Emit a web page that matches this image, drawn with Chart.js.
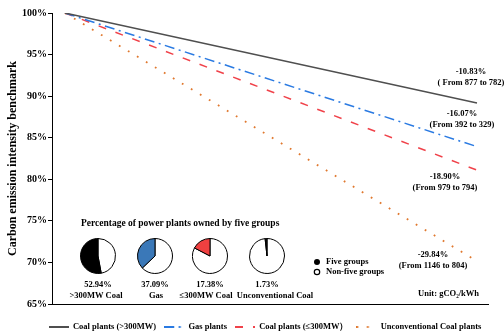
<!DOCTYPE html>
<html>
<head>
<meta charset="utf-8">
<script src="https://cdn.jsdelivr.net/npm/chart.js@4.4.1/dist/chart.umd.min.js"></script>
<style>
  html, body { margin: 0; padding: 0; background: #fff; }
  #wrap { position: relative; width: 504px; height: 333px; overflow: hidden; }
  #main { position: absolute; left: 0; top: 0; }
  .pie { position: absolute; }
</style>
</head>
<body>
<div id="wrap"><canvas id="main" width="504" height="333"></canvas></div>
<script>
// ---- data ----
const years = [2020, 2024];
const seriesNames = ['Coal plants (>300MW)', 'Gas plants', 'Coal plants (\u2264300MW\uFF09', 'Unconventional Coal plants'];
const intensityStart = [877, 392, 979, 1146];   // gCO2/kWh in 2020
const intensityEnd = [782, 329, 794, 804];      // gCO2/kWh in 2024
const yTickValues = [65, 70, 75, 80, 85, 90, 95, 100];

const pieNames = ['>300MW Coal', 'Gas', '\u2264300MW Coal', 'Unconventional Coal'];
const fiveGroupShare = [52.94, 37.09, 17.38, 1.73];

// ---- styles ----
const serif = "'Liberation Serif', 'Times New Roman', serif";
const lineStyles = [
  { color: '#4f4f4f', dash: [] },
  { color: '#2a7ae2', dash: [10, 4.5, 2, 4.5] },
  { color: '#f0424a', dash: [8, 10] },
  { color: '#e0782e', dash: [1.8, 8.7] }
];
const pieColors = ['#000000', '#3a78b8', '#f04040', '#111111'];

// label placement relative to each line's 2024 end point
const endLabelOffsets = [
  { dx: -6, dy: -31 },
  { dx: -15, dy: -33 },
  { dx: -32, dy: 7 },
  { dx: -44, dy: -6 }
];
const inset = {
  titleX: 81, titleY: 224,
  pieX: [98, 155, 210, 267], pieY: 256, pieSize: 36,
  pctY: 285, nameY: 296, nameX: [96, 156, 206, 275],
  keyX: 317, keyY: [262, 272]
};

// benchmark (% of 2020 intensity)
const benchmark = intensityStart.map((s, i) => [100, intensityEnd[i] / s * 100]);

function legendSample(style) {
  const c = document.createElement('canvas');
  c.width = 20; c.height = 4;
  const g = c.getContext('2d');
  g.strokeStyle = style.color;
  g.lineWidth = 2;
  g.setLineDash(style.dash);
  g.beginPath(); g.moveTo(0, 2); g.lineTo(20, 2); g.stroke();
  return c;
}

const annotations = {
  id: 'annotations',
  afterLayout(chart) {
    // centre the legend row under the plot
    chart.legend.left += 21;
    chart.legend.right += 21;
  },
  afterDraw(chart) {
    const { ctx, scales: { x, y }, chartArea } = chart;
    ctx.save();
    ctx.fillStyle = '#000';
    ctx.textBaseline = 'middle';
    ctx.textAlign = 'center';
    ctx.font = `bold 8.5px ${serif}`;
    benchmark.forEach((vals, i) => {
      const px = x.getPixelForValue(years[1]) + endLabelOffsets[i].dx;
      const py = y.getPixelForValue(vals[1]) + endLabelOffsets[i].dy;
      const pct = ((intensityEnd[i] - intensityStart[i]) / intensityStart[i] * 100).toFixed(2) + '%';
      const pre = i === 0 ? '( From ' : '(From ';
      ctx.fillText(pct, px, py);
      ctx.fillText(`${pre}${intensityStart[i]} to ${intensityEnd[i]})`, px, py + 11);
    });

    // unit note
    ctx.textAlign = 'right';
    ctx.fillText('Unit: gCO\u2082/kWh', chartArea.right - 9, chartArea.bottom - 10);

    // inset texts
    ctx.textAlign = 'left';
    ctx.font = `bold 9.5px ${serif}`;
    ctx.fillText('Percentage of power plants owned by five groups', inset.titleX, inset.titleY);
    ctx.font = `bold 8.5px ${serif}`;
    ctx.textAlign = 'center';
    fiveGroupShare.forEach((v, i) => {
      ctx.fillText(v.toFixed(2) + '%', inset.pieX[i], inset.pctY);
      ctx.fillText(pieNames[i], inset.nameX[i], inset.nameY);
    });
    // inset key
    ctx.textAlign = 'left';
    ctx.lineWidth = 1.2;
    ctx.strokeStyle = '#000';
    ctx.beginPath(); ctx.arc(inset.keyX, inset.keyY[0], 3, 0, Math.PI * 2); ctx.fill();
    ctx.beginPath(); ctx.arc(inset.keyX, inset.keyY[1], 2.7, 0, Math.PI * 2); ctx.stroke();
    ctx.fillText('Five groups', inset.keyX + 9, inset.keyY[0]);
    ctx.fillText('Non-five groups', inset.keyX + 9, inset.keyY[1]);
    ctx.restore();
  }
};

new Chart(document.getElementById('main'), {
  type: 'line',
  data: {
    datasets: seriesNames.map((name, i) => ({
      label: name,
      data: years.map((yr, k) => ({ x: yr, y: benchmark[i][k] })),
      borderColor: lineStyles[i].color,
      backgroundColor: lineStyles[i].color,
      borderDash: lineStyles[i].dash,
      borderWidth: i === 3 ? 1.8 : 1.5,
      pointRadius: 0,
      fill: false,
      tension: 0
    }))
  },
  options: {
    responsive: false,
    animation: false,
    layout: { padding: { top: 13, right: 16, bottom: -8.25, left: 0 } },
    scales: {
      x: {
        type: 'linear',
        min: 2019.874,
        max: 2024.107,
        afterBuildTicks: s => { s.ticks = years.map(v => ({ value: v })); },
        afterFit: s => { s.height = 10.75; },
        grid: { display: false },
        border: { display: true, color: '#000', width: 1 },
        ticks: {
          align: 'inner',
          padding: 5,
          color: '#000',
          font: { family: serif, size: 10, weight: 'bold' },
          callback: v => String(v)
        }
      },
      y: {
        min: 65,
        max: 100,
        afterBuildTicks: s => { s.ticks = yTickValues.map(v => ({ value: v })); },
        afterFit: s => { s.width = 52; },
        grid: { drawOnChartArea: false, drawTicks: true, tickLength: 4, color: '#000' },
        border: { display: true, color: '#000', width: 1 },
        ticks: {
          padding: 1,
          color: '#000',
          font: { family: serif, size: 10, weight: 'bold' },
          callback: v => v + '%'
        },
        title: {
          display: true,
          text: 'Carbon emission intensity benchmark',
          color: '#000',
          font: { family: serif, size: 12, weight: 'bold' },
          padding: { top: 6, bottom: 0 }
        }
      }
    },
    plugins: {
      tooltip: { enabled: false },
      legend: {
        position: 'bottom',
        labels: {
          usePointStyle: true,
          pointStyleWidth: 20,
          padding: 8,
          color: '#000',
          font: { family: serif, size: 8.5, weight: 'bold' },
          generateLabels: chart => chart.data.datasets.map((ds, i) => ({
            text: ds.label,
            pointStyle: legendSample(lineStyles[i]),
            fillStyle: ds.borderColor,
            strokeStyle: ds.borderColor,
            lineWidth: 0,
            fontColor: '#000',
            hidden: false,
            datasetIndex: i
          }))
        }
      }
    }
  },
  plugins: [annotations]
});

// small ownership pies
const wrap = document.getElementById('wrap');
fiveGroupShare.forEach((share, i) => {
  const c = document.createElement('canvas');
  c.className = 'pie';
  c.width = inset.pieSize; c.height = inset.pieSize;
  c.style.left = (inset.pieX[i] - inset.pieSize / 2) + 'px';
  c.style.top = (inset.pieY - inset.pieSize / 2) + 'px';
  wrap.appendChild(c);
  new Chart(c, {
    type: 'pie',
    data: {
      labels: ['Non-five groups', 'Five groups'],
      datasets: [{
        data: [100 - share, share],
        backgroundColor: ['#ffffff', pieColors[i]],
        borderColor: '#000',
        borderWidth: 1
      }]
    },
    options: {
      responsive: false,
      animation: false,
      layout: { padding: 0 },
      plugins: { legend: { display: false }, tooltip: { enabled: false } }
    }
  });
});
</script>
</body>
</html>
